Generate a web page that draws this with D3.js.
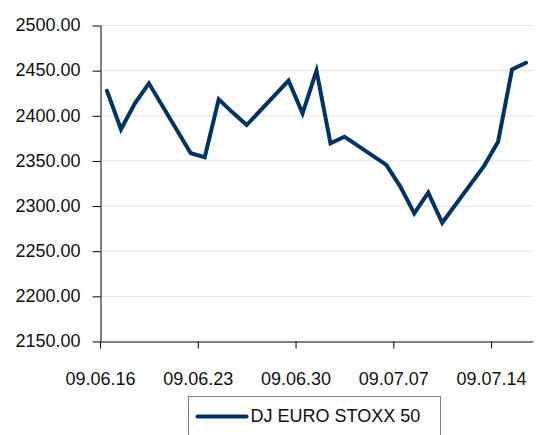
<!DOCTYPE html>
<html>
<head>
<meta charset="utf-8">
<script src="https://cdn.jsdelivr.net/npm/d3@7"></script>
<style>
  body { margin: 0; background: #fff; }
  svg { display: block; font-family: "Liberation Sans", Arial, sans-serif; }
</style>
</head>
<body>
<script>
// trading days (2009) and closing values
const dates = [
  "2009-06-16", "2009-06-17", "2009-06-18", "2009-06-19",
  "2009-06-22", "2009-06-23", "2009-06-24", "2009-06-25", "2009-06-26",
  "2009-06-29", "2009-06-30", "2009-07-01", "2009-07-02", "2009-07-03",
  "2009-07-06", "2009-07-07", "2009-07-08", "2009-07-09", "2009-07-10",
  "2009-07-13", "2009-07-14", "2009-07-15", "2009-07-16"
];
const values = [
  2427.2, 2384.5, 2413.3, 2435.4,
  2357.9, 2353.5, 2417.7, 2403.0, 2389.2,
  2438.3, 2402.2, 2449.4, 2369.0, 2376.3,
  2345.0, 2321.0, 2291.4, 2314.3, 2281.0,
  2344.0, 2370.7, 2450.9, 2458.2
];
const yTicks = [2150, 2200, 2250, 2300, 2350, 2400, 2450, 2500];
const xTicks = ["2009-06-16", "2009-06-23", "2009-06-30", "2009-07-07", "2009-07-14"];
const seriesName = "DJ EURO STOXX 50";

const width = 540, height = 435;
const plot = {left: 100, right: 533, top: 25, bottom: 341};

const parse = d3.timeParse("%Y-%m-%d");
const data = dates.map((d, i) => ({date: d3.timeHour.offset(parse(d), 12), value: values[i]}));

const x = d3.scaleTime()
    .domain([parse("2009-06-16"), parse("2009-07-17")])
    .range([plot.left, plot.right]);
const y = d3.scaleLinear()
    .domain([2150, 2500])
    .range([plot.bottom, plot.top]);

const svg = d3.select("body").append("svg")
    .attr("width", width)
    .attr("height", height)
    .attr("viewBox", [0, 0, width, height]);

// gridlines
svg.append("g")
    .selectAll("line")
    .data(yTicks.filter(t => t !== 2150))
    .join("line")
      .attr("x1", plot.left)
      .attr("x2", plot.right)
      .attr("y1", d => y(d) + 0.5)
      .attr("y2", d => y(d) + 0.5)
      .attr("stroke", "#e3e3e3")
      .attr("stroke-width", 1);

// y axis
const yAxis = svg.append("g")
    .attr("transform", `translate(${plot.left + 0.5},0)`)
    .call(d3.axisLeft(y).tickValues(yTicks).tickFormat(d3.format(".2f")).tickSize(8).tickSizeOuter(0).tickPadding(12));
yAxis.select(".domain").attr("stroke", "#000");
yAxis.selectAll(".tick line").attr("stroke", "#000").attr("transform", "translate(0,0.5)");
yAxis.selectAll("text")
    .attr("font-size", 18)
    .attr("font-family", "Liberation Sans, Arial, sans-serif")
    .attr("fill", "#111");

// x axis
const xAxis = svg.append("g")
    .attr("transform", `translate(0,${plot.bottom + 0.5})`)
    .call(d3.axisBottom(x)
      .tickValues(xTicks.map(parse))
      .tickFormat(d3.timeFormat("%y.%m.%d"))
      .tickSize(7)
      .tickSizeOuter(0)
      .tickPadding(24));
xAxis.select(".domain").attr("stroke", "#000");
xAxis.selectAll(".tick line").attr("stroke", "#000");
xAxis.selectAll("text")
    .attr("font-size", 18)
    .attr("font-family", "Liberation Sans, Arial, sans-serif")
    .attr("fill", "#111");

// series line
const line = d3.line()
    .x(d => x(d.date))
    .y(d => y(d.value));

svg.append("path")
    .datum(data)
    .attr("fill", "none")
    .attr("stroke", "#003366")
    .attr("stroke-width", 4)
    .attr("stroke-linejoin", "miter")
    .attr("stroke-linecap", "round")
    .attr("d", line);

// legend
const legend = svg.append("g").attr("transform", "translate(188.5,396.5)");
legend.append("rect")
    .attr("width", 252)
    .attr("height", 45)
    .attr("fill", "#fff")
    .attr("stroke", "#808080");
legend.append("line")
    .attr("x1", 9).attr("x2", 58)
    .attr("y1", 20).attr("y2", 20)
    .attr("stroke", "#003366")
    .attr("stroke-width", 4)
    .attr("stroke-linecap", "round");
legend.append("text")
    .attr("x", 62)
    .attr("y", 19)
    .attr("dy", "0.35em")
    .attr("font-size", 18)
    .attr("fill", "#111")
    .text(seriesName);
</script>
</body>
</html>
